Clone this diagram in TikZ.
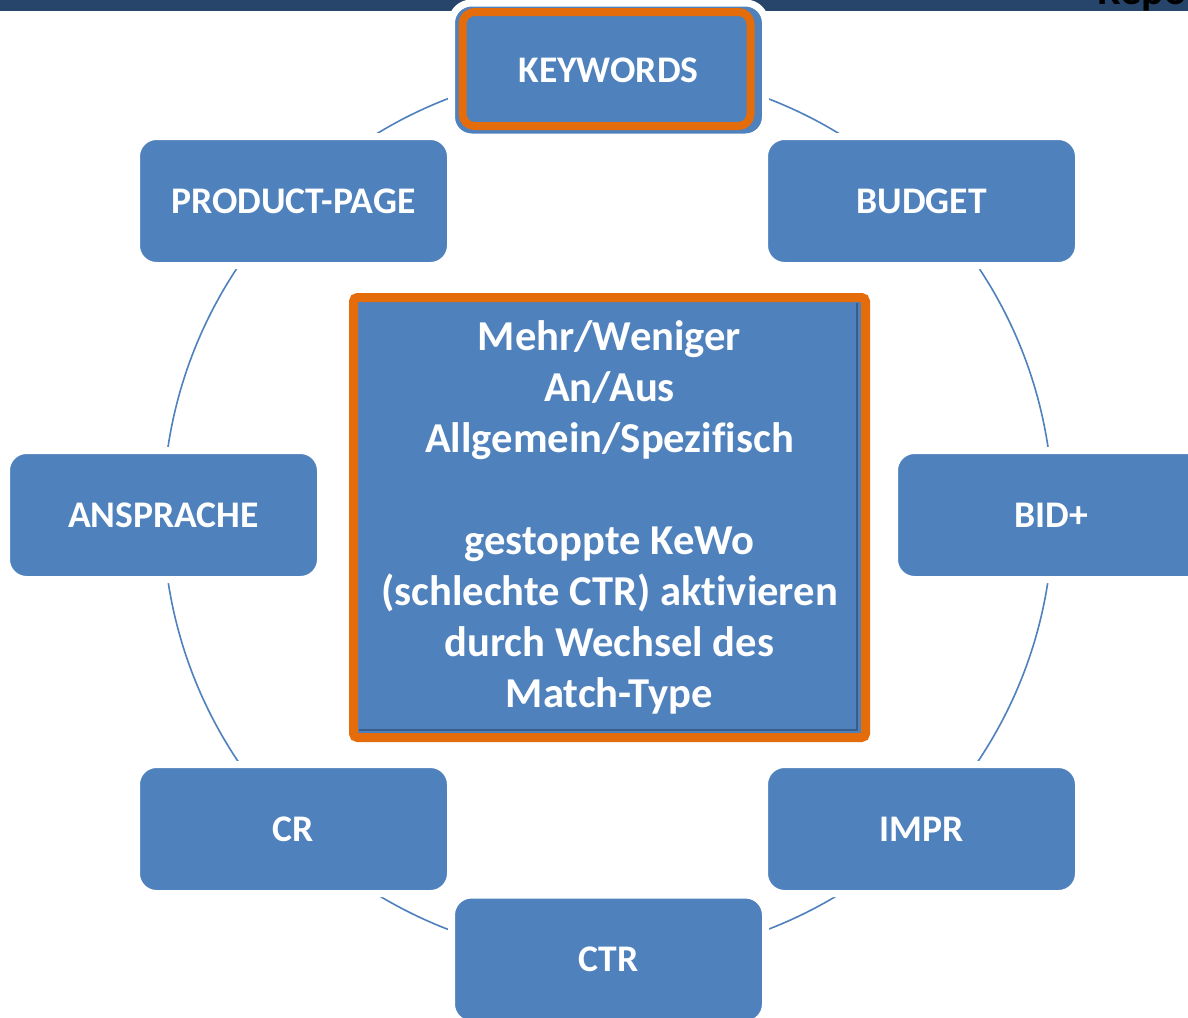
\documentclass[tikz,border=0pt]{standalone}
\usepackage{fontspec}
\setmainfont[Ligatures=NoCommon]{Carlito}
\definecolor{boxblue}{HTML}{4F81BD}
\definecolor{orng}{HTML}{E46C0A}
\definecolor{barblue}{HTML}{27456A}
\definecolor{edgeblue}{HTML}{385D8A}
\begin{document}
\begin{tikzpicture}[x=0.5pt,y=-0.5pt,
  item/.style={rounded corners=10pt, fill=boxblue, draw=white, line width=3.5pt,
    minimum width=157pt, minimum height=64.5pt, inner sep=0pt,
    text=white, font=\fontsize{18.8}{22}\selectfont\bfseries},
  ring/.style={draw=boxblue, line width=0.8pt},
  hilite/.style={draw=orng, line width=4pt, rounded corners=6pt, inner sep=0pt},
  corebox/.style={fill=boxblue, draw=orng, line width=4.5pt, rounded corners=2pt,
    minimum width=256pt, minimum height=220pt, inner sep=0pt, align=center,
    text=white, font=\fontsize{21.3}{25.5}\selectfont\bfseries}]
\useasboundingbox (0,0) rectangle (1188,1017);
\clip (0,0) rectangle (1188,1017);
\fill[white] (0,0) rectangle (1188,1017);
% top bar and cut title
\fill[barblue] (0,0) rectangle (1188,10.5);
\node[anchor=base west, inner sep=0pt, text=black, font=\fontsize{21}{21}\selectfont\bfseries] (title) at (1097,4) {Repo};
% ring
\coordinate (c) at (608,514);
\draw[ring] (c) circle[radius=222.5pt];
% items
\node[item, minimum height=67pt] (kw) at (608.5,70) {KEYWORDS};
\node[hilite, minimum width=144pt, minimum height=57pt] (kwframe) at (606.5,69) {};
\node[item] (bud) at (921.5,201) {BUDGET};
\node[item] (pp) at (293.5,201) {PRODUCT-PAGE};
\node[item] (ans) at (163.5,515) {ANSPRACHE};
\node[item] (bid) at (1051.5,515) {BID+};
\node[item] (cr) at (293.5,829) {CR};
\node[item] (impr) at (921.5,829) {IMPR};
\node[item] (ctr) at (608.5,959.5) {CTR};
% centre box
\node[corebox] (core) at (609.5,517.5) {Mehr/Weniger\\An/Aus\\Allgemein/Spezifisch\\[25.5pt]gestoppte KeWo\\(schlechte CTR) aktivieren\\durch Wechsel des\\Match-Type};
\draw[edgeblue, line width=1pt] (857,303) -- (857,730) -- (359,730);
\end{tikzpicture}
\end{document}
